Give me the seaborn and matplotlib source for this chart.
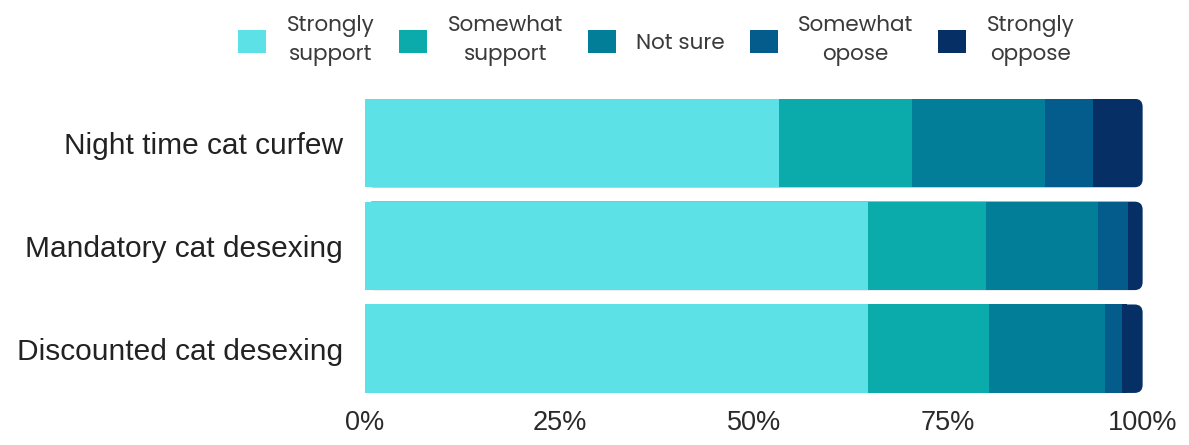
import matplotlib
matplotlib.use("Agg")
import matplotlib.pyplot as plt
import seaborn as sns
import pandas as pd
import numpy as np
from matplotlib.patches import FancyBboxPatch, Patch

categories = ["Night time cat curfew", "Mandatory cat desexing", "Discounted cat desexing"]
responses = ["Strongly\nsupport", "Somewhat\nsupport", "Not sure", "Somewhat\nopose", "Strongly\noppose"]
strongly_support = [53.3, 64.7, 64.7]
somewhat_support = [17.0, 15.2, 15.6]
not_sure = [17.1, 14.3, 14.8]
somewhat_oppose = [6.2, 3.9, 2.3]
strongly_oppose = [6.4, 1.9, 2.6]
colors = ["#5ce1e6", "#0aabaa", "#037e99", "#045c8c", "#062f66"]
xticks = [0, 25, 50, 75, 100]
xticklabels = ["0%", "25%", "50%", "75%", "100%"]

series = [strongly_support, somewhat_support, not_sure, somewhat_oppose, strongly_oppose]
cum = np.cumsum(np.array(series), axis=0)

sns.set_theme(style="white")
plt.rcParams["font.family"] = ["Liberation Sans", "DejaVu Sans"]

fig = plt.figure(figsize=(11.89, 4.45), dpi=100)
ax = fig.add_axes([0.307, 0.117, 0.654, 0.661])

for i in reversed(range(len(responses))):
    df = pd.DataFrame({"category": categories, "value": cum[i]})
    sns.barplot(data=df, y="category", x="value", orient="h", color=colors[i],
                width=0.86, saturation=1, ax=ax, linewidth=0, order=categories)

ax.set_xlim(0, 100)
ax.set_ylim(2.43, -0.43)

# round the right end of the full (100%) bars
fig.canvas.draw()
full = list(ax.patches)[:len(categories)]
px_per_x = ax.transData.transform((1, 0))[0] - ax.transData.transform((0, 0))[0]
px_per_y = abs(ax.transData.transform((0, 1))[1] - ax.transData.transform((0, 0))[1])
r_px = 8
rx = r_px / px_per_x
aspect = (r_px / px_per_y) / rx
for p in full:
    x0, y0, w, h = p.get_x(), p.get_y(), p.get_width(), p.get_height()
    fb = FancyBboxPatch((x0, y0), w, h, boxstyle=f"round,pad=0,rounding_size={rx}",
                        mutation_aspect=aspect, facecolor=p.get_facecolor(),
                        edgecolor="none", zorder=p.get_zorder() - 0.1)
    ax.add_patch(fb)
    p.set_width(w - 2 * rx)

ax.set_xticks(xticks)
ax.set_xticklabels(xticklabels, fontsize=19.5, color="#2a2a2a")
ax.tick_params(axis="y", labelsize=21.5, labelcolor="#222222", length=0, pad=16)
ax.tick_params(axis="x", length=0, pad=12)
ax.set_xlabel("")
ax.set_ylabel("")
for s in ax.spines.values():
    s.set_visible(False)

handles = [Patch(facecolor=c, edgecolor="none") for c in colors]
leg = fig.legend(handles, responses, loc="upper center", bbox_to_anchor=(0.552, 1.0),
                 ncol=5, frameon=False, handlelength=1.3, handleheight=1.3,
                 handletextpad=0.95, columnspacing=1.15, borderpad=0.2,
                 prop={"family": ["Poppins", "Lato", "DejaVu Sans"], "size": 15.5})
for t in leg.get_texts():
    t.set_multialignment("center")
    t.set_linespacing(1.45)
    t.set_color("#3a3a3a")

fig.savefig("out.png", dpi=100)
